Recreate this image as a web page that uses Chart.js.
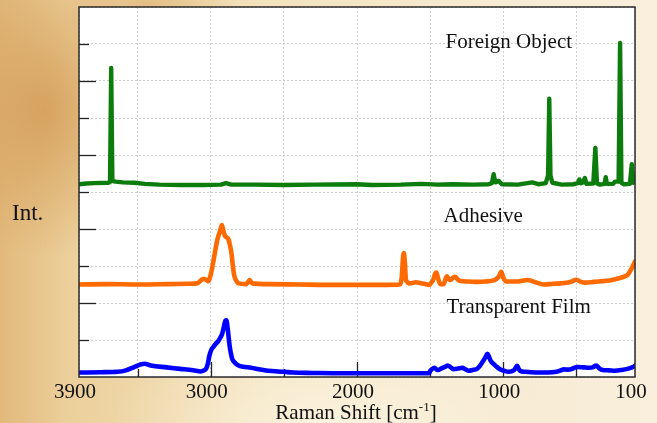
<!DOCTYPE html>
<html>
<head>
<meta charset="utf-8">
<script src="https://cdn.jsdelivr.net/npm/chart.js@4.4.0/dist/chart.umd.min.js"></script>
<style>
  html, body { margin: 0; padding: 0; }
  body {
    width: 657px;
    height: 423px;
    overflow: hidden;
    background:
      radial-gradient(ellipse 110px 150px at 45px 110px, rgba(208, 150, 78, 0.75), rgba(208, 150, 78, 0)),
      radial-gradient(ellipse 90px 60px at 150px 8px, rgba(215, 165, 95, 0.5), rgba(215, 165, 95, 0)),
      radial-gradient(ellipse 220px 110px at 330px 430px, rgba(255, 250, 236, 0.7), rgba(255, 250, 236, 0)),
      linear-gradient(90deg, #e2b97c 0px, #ecd09c 70px, #f3e2bd 260px, #f7ebd4 520px, #f9efdc 657px);
  }
  #wrap { position: relative; width: 657px; height: 423px; }
</style>
</head>
<body>
<div id="wrap"><canvas id="raman-chart"></canvas></div>
<script>
// Raman spectra, intensities stacked with an offset per sample
const foreignShift = [3900, 3850, 3800, 3700, 3688, 3680, 3672, 3650, 3600, 3523, 3450, 3350, 3200, 3050, 2930, 2895, 2860, 2700, 2500, 2300, 2000, 1900, 1700, 1560, 1450, 1350, 1200, 1100, 1078, 1066, 1055, 1031, 1010, 900, 803, 760, 710, 694, 686, 678, 665, 600, 520, 490, 480, 470, 455, 443, 432, 385, 371, 360, 340, 308, 300, 292, 250, 237, 212, 202, 193, 175, 135, 122, 112, 100];
const foreignInt = [5.21, 5.23, 5.24, 5.25, 5.27, 8.35, 5.30, 5.28, 5.26, 5.25, 5.22, 5.20, 5.19, 5.19, 5.20, 5.24, 5.20, 5.20, 5.19, 5.20, 5.21, 5.19, 5.20, 5.22, 5.20, 5.21, 5.20, 5.21, 5.24, 5.48, 5.26, 5.30, 5.21, 5.20, 5.26, 5.21, 5.24, 5.45, 7.52, 5.45, 5.25, 5.20, 5.21, 5.24, 5.34, 5.24, 5.26, 5.38, 5.22, 5.23, 6.19, 5.23, 5.20, 5.22, 5.40, 5.22, 5.22, 5.28, 5.28, 9.03, 5.25, 5.21, 5.22, 5.75, 5.25, 5.28];

const adhesiveShift = [3900, 3700, 3500, 3300, 3150, 3094, 3065, 3051, 3030, 3017, 2995, 2980, 2965, 2952, 2935, 2923, 2912, 2903, 2890, 2880, 2868, 2857, 2847, 2837, 2820, 2809, 2757, 2742, 2734, 2725, 2714, 2600, 2400, 2200, 2000, 1800, 1709, 1694, 1686, 1680, 1673, 1665, 1637, 1600, 1580, 1540, 1508, 1492, 1480, 1465, 1457, 1448, 1431, 1408, 1394, 1386, 1375, 1363, 1345, 1328, 1315, 1300, 1237, 1180, 1122, 1060, 1051, 1030, 1014, 1000, 980, 900, 837, 780, 723, 660, 608, 540, 500, 470, 437, 380, 294, 250, 208, 170, 151, 122, 100];
const adhesiveInt = [2.50, 2.51, 2.50, 2.51, 2.52, 2.53, 2.62, 2.65, 2.63, 2.59, 2.85, 3.16, 3.50, 3.75, 3.96, 4.11, 3.93, 3.82, 3.77, 3.73, 3.56, 3.32, 2.95, 2.71, 2.57, 2.53, 2.51, 2.58, 2.62, 2.57, 2.53, 2.51, 2.50, 2.49, 2.49, 2.49, 2.50, 2.71, 3.20, 3.35, 3.10, 2.62, 2.53, 2.56, 2.55, 2.52, 2.49, 2.55, 2.62, 2.80, 2.82, 2.70, 2.51, 2.51, 2.66, 2.72, 2.66, 2.62, 2.68, 2.71, 2.65, 2.60, 2.58, 2.57, 2.58, 2.62, 2.64, 2.72, 2.84, 2.68, 2.58, 2.58, 2.62, 2.56, 2.50, 2.52, 2.53, 2.57, 2.63, 2.57, 2.55, 2.57, 2.60, 2.63, 2.67, 2.72, 2.76, 2.94, 3.12];

const filmShift = [3900, 3750, 3637, 3580, 3523, 3480, 3452, 3409, 3300, 3209, 3120, 3066, 3045, 3032, 3020, 3009, 2995, 2980, 2965, 2952, 2935, 2923, 2910, 2900, 2893, 2882, 2871, 2860, 2852, 2830, 2809, 2780, 2723, 2660, 2609, 2500, 2437, 2300, 2100, 1900, 1700, 1508, 1500, 1494, 1471, 1455, 1443, 1420, 1395, 1380, 1360, 1337, 1310, 1280, 1260, 1237, 1210, 1180, 1160, 1137, 1120, 1109, 1098, 1088, 1060, 1040, 1023, 990, 965, 928, 915, 905, 895, 886, 850, 780, 700, 637, 600, 586, 560, 537, 494, 450, 414, 390, 365, 345, 322, 280, 237, 190, 151, 120, 100];
const filmInt = [0.12, 0.13, 0.14, 0.18, 0.27, 0.34, 0.36, 0.31, 0.26, 0.22, 0.18, 0.15, 0.18, 0.22, 0.35, 0.57, 0.74, 0.82, 0.90, 0.95, 1.06, 1.15, 1.35, 1.52, 1.53, 1.25, 0.85, 0.60, 0.48, 0.37, 0.31, 0.28, 0.25, 0.20, 0.17, 0.14, 0.12, 0.11, 0.10, 0.10, 0.10, 0.10, 0.16, 0.19, 0.25, 0.20, 0.19, 0.24, 0.28, 0.31, 0.26, 0.21, 0.23, 0.25, 0.21, 0.17, 0.19, 0.22, 0.30, 0.44, 0.55, 0.63, 0.55, 0.45, 0.33, 0.26, 0.21, 0.16, 0.14, 0.18, 0.25, 0.30, 0.22, 0.17, 0.14, 0.12, 0.12, 0.14, 0.19, 0.21, 0.20, 0.21, 0.27, 0.26, 0.25, 0.26, 0.31, 0.24, 0.19, 0.18, 0.17, 0.19, 0.22, 0.26, 0.30];

const seriesNames = ["Foreign Object", "Adhesive", "Transparent Film"];
const xTickValues = [3900, 3500, 3000, 2500, 2000, 1500, 1000, 500, 100];
const xTickLabels = ["3900", "", "3000", "", "2000", "", "1000", "", "100"];

const serif = "'Liberation Serif', 'Times New Roman', serif";

const toPoints = (xs, ys) => xs.map((x, i) => ({ x: x, y: ys[i] }));

// where each sample name sits, in axis units (left edge, middle of text)
const nameAnchors = [
  { x: 1395, y: 9.04 },
  { x: 1409, y: 4.33 },
  { x: 1389, y: 1.88 },
];

const frameAndLabels = {
  id: "frameAndLabels",
  beforeDraw(chart) {
    const { ctx, chartArea: a } = chart;
    ctx.save();
    ctx.fillStyle = "#ffffff";
    ctx.fillRect(a.left, a.top, a.right - a.left, a.bottom - a.top);
    ctx.restore();
  },
  beforeDatasetsDraw(chart) {
    const { ctx, chartArea: a, scales } = chart;
    ctx.save();
    ctx.strokeStyle = "#222";
    ctx.lineWidth = 1.3;
    // inward ticks on the left axis
    for (let v = 1; v < 10; v++) {
      const y = Math.round(scales.y.getPixelForValue(v)) + 0.5;
      const len = v % 2 === 0 ? 17 : 10;
      ctx.beginPath();
      ctx.moveTo(a.left, y);
      ctx.lineTo(a.left + len, y);
      ctx.stroke();
    }
    // inward ticks on the bottom axis
    xTickValues.slice(1, -1).forEach((v) => {
      const x = Math.round(scales.x.getPixelForValue(v)) + 0.5;
      const len = v % 1000 === 0 ? 15 : 8;
      ctx.beginPath();
      ctx.moveTo(x, a.bottom);
      ctx.lineTo(x, a.bottom - len);
      ctx.stroke();
    });
    ctx.restore();
  },
  afterDraw(chart) {
    const { ctx, chartArea: a, scales } = chart;
    ctx.save();
    ctx.strokeStyle = "#2a2a2a";
    ctx.lineWidth = 1.5;
    ctx.strokeRect(a.left, a.top, a.right - a.left, a.bottom - a.top);

    ctx.fillStyle = "#111";
    ctx.font = "21px " + serif;
    ctx.textBaseline = "middle";
    ctx.textAlign = "left";
    seriesNames.forEach((name, i) => {
      const p = nameAnchors[i];
      ctx.fillText(name, scales.x.getPixelForValue(p.x), scales.y.getPixelForValue(p.y));
    });

    ctx.font = "23px " + serif;
    ctx.fillText("Int.", 12, 214);

    // x axis title with superscript
    const main = "Raman Shift [cm";
    const sup = "-1";
    const close = "]";
    ctx.font = "21px " + serif;
    const wMain = ctx.measureText(main).width;
    const wClose = ctx.measureText(close).width;
    ctx.font = "13px " + serif;
    const wSup = ctx.measureText(sup).width;
    const cx = (a.left + a.right) / 2 - 1;
    let x = cx - (wMain + wSup + wClose) / 2;
    const base = 419;
    ctx.textBaseline = "alphabetic";
    ctx.font = "21px " + serif;
    ctx.fillText(main, x, base);
    x += wMain;
    ctx.font = "13px " + serif;
    ctx.fillText(sup, x, base - 8);
    x += wSup;
    ctx.font = "21px " + serif;
    ctx.fillText(close, x, base);
    ctx.restore();
  },
};

const lineStyle = {
  pointRadius: 0,
  borderJoinStyle: "round",
  borderCapStyle: "round",
  fill: false,
};

const data = {
  datasets: [
    { ...lineStyle, label: seriesNames[0], data: toPoints(foreignShift, foreignInt), borderColor: "rgb(12, 124, 12)", borderWidth: 4.4, tension: 0 },
    { ...lineStyle, label: seriesNames[1], data: toPoints(adhesiveShift, adhesiveInt), borderColor: "rgb(255, 106, 0)", borderWidth: 4.6, cubicInterpolationMode: "monotone" },
    { ...lineStyle, label: seriesNames[2], data: toPoints(filmShift, filmInt), borderColor: "rgb(0, 0, 255)", borderWidth: 4.6, cubicInterpolationMode: "monotone" },
  ],
};

const config = {
  type: "line",
  data: data,
  options: {
    responsive: true,
    maintainAspectRatio: false,
    animation: false,
    layout: { padding: { top: 7, right: 22, left: 0, bottom: 0 } },
    plugins: {
      legend: { display: false },
      tooltip: { enabled: false },
    },
    scales: {
      x: {
        type: "linear",
        reverse: true,
        min: 100,
        max: 3900,
        afterBuildTicks: (scale) => {
          scale.ticks = xTickValues.map((v) => ({ value: v }));
        },
        afterFit: (scale) => {
          scale.height = 46;
        },
        ticks: {
          autoSkip: false,
          maxRotation: 0,
          padding: 3,
          labelOffset: -4,
          color: "#111",
          font: { family: serif, size: 21 },
          callback: (value) => xTickLabels[xTickValues.indexOf(value)],
        },
        grid: { color: "#cdcdcd", lineWidth: 1, drawTicks: false },
        border: { display: false, dash: [2, 2] },
      },
      y: {
        min: 0,
        max: 10,
        afterFit: (scale) => {
          scale.width = 79;
        },
        ticks: { stepSize: 1, display: false },
        grid: { color: "#cdcdcd", lineWidth: 1, drawTicks: false },
        border: { display: false, dash: [2, 2] },
      },
    },
  },
  plugins: [frameAndLabels],
};

let ctx = document.getElementById("raman-chart");
const ramanChart = new Chart(ctx, config);
</script>
</body>
</html>
